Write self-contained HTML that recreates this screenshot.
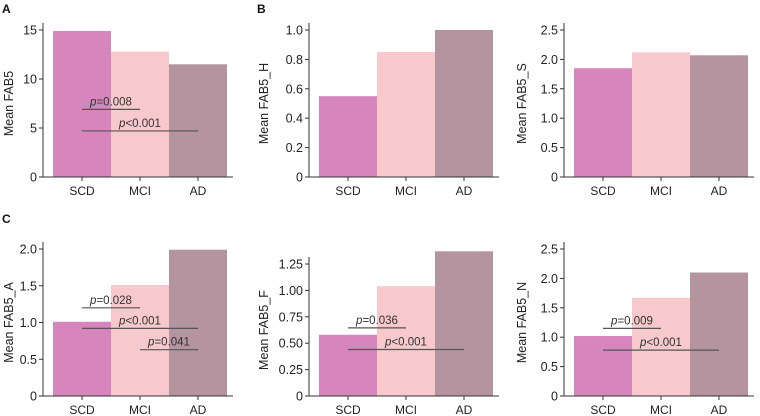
<!DOCTYPE html>
<html><head><meta charset="utf-8"><style>
body{margin:0;background:#fff;}
svg{display:block;font-family:"Liberation Sans",Arial,sans-serif;}
</style></head><body>
<svg id="chart" width="760" height="416" viewBox="0 0 760 416"></svg>
<script>
const categories = ["SCD","MCI","AD"];
const valuesA = [14.9, 12.8, 11.5];
const valuesH = [0.55, 0.85, 1.0];
const valuesS = [1.85, 2.12, 2.07];
const valuesAA = [1.01, 1.51, 1.99];
const valuesF = [0.58, 1.04, 1.37];
const valuesN = [1.02, 1.67, 2.10];
const ticksA = [0, 5, 10, 15];
const ticksH = [0, 0.2, 0.4, 0.6, 0.8, 1.0];
const ticksS = [0, 0.5, 1.0, 1.5, 2.0, 2.5];
const ticksAA = [0, 0.5, 1.0, 1.5, 2.0];
const ticksF = [0, 0.25, 0.5, 0.75, 1.0, 1.25];
const ticksN = [0, 0.5, 1.0, 1.5, 2.0, 2.5];
const tickLabelsA = ["0","5","10","15"];
const tickLabelsH = ["0","0.2","0.4","0.6","0.8","1.0"];
const tickLabelsS = ["0","0.5","1.0","1.5","2.0","2.5"];
const tickLabelsAA = ["0","0.5","1.0","1.5","2.0"];
const tickLabelsF = ["0","0.25","0.50","0.75","1.00","1.25"];
const tickLabelsN = ["0","0.5","1.0","1.5","2.0","2.5"];
// significance brackets: [fromIndex, toIndex, yValue, label]
const sigA = [[0,1,6.9,"=0.008"],[0,2,4.7,"<0.001"]];
const sigAA = [[0,1,1.2,"=0.028"],[0,2,0.92,"<0.001"],[1,2,0.63,"=0.041"]];
const sigF = [[0,1,0.645,"=0.036"],[0,2,0.44,"<0.001"]];
const sigN = [[0,1,1.15,"=0.009"],[0,2,0.78,"<0.001"]];

const colors = ["#d786bd","#f7c8cc","#b4949f"];
const NS = "http://www.w3.org/2000/svg";
const svg = document.getElementById("chart");
function el(tag, attrs, parent, text){
  const e = document.createElementNS(NS, tag);
  for (const k in attrs) e.setAttribute(k, attrs[k]);
  if (text !== undefined) e.textContent = text;
  (parent || svg).appendChild(e);
  return e;
}
function panel(id, ax, y0, yTop, tickMax, values, ticks, tickLabels, ylabel, labelX, sigs){
  const g = el("g", {});
  
  
  const yScale = v => y0 - v / tickMax * (y0 - yTop);
  const bw = 58, bx0 = ax + 10;
  const xCenter = i => bx0 + bw * i + bw / 2;
  values.forEach((v, i) => {
    const r = el("rect", {x: bx0 + bw*i, y: yScale(v), width: bw, height: y0 - yScale(v), fill: colors[i]}, g);
    
    
  });
  const yax = el("line", {x1: ax, x2: ax, y1: yTop - 7, y2: y0, stroke: "#333", "stroke-width": 1}, g);
  
  
  const xax = el("line", {x1: ax - 4, x2: bx0 + bw*3 + 6, y1: y0, y2: y0, stroke: "#333", "stroke-width": 1}, g);
  
  
  ticks.forEach((t, i) => {
    const y = yScale(t);
    el("line", {x1: ax - 4, x2: ax, y1: y, y2: y, stroke: "#333"}, g);
    const tl = el("text", {x: ax - 6, y: y + 4.5, "text-anchor": "end", "font-size": 12.5, fill: "#222"}, g, tickLabels[i]);
    
    
  });
  categories.forEach((c, i) => {
    const x = xCenter(i);
    el("line", {x1: x, x2: x, y1: y0, y2: y0 + 4, stroke: "#333"}, g);
    const xl = el("text", {x: x, y: y0 + 18, "text-anchor": "middle", "font-size": 12, fill: "#222"}, g, c);
    
    
  });
  const cy = (y0 + yTop) / 2;
  const yl = el("text", {x: labelX, y: cy, "text-anchor": "middle", "font-size": 12.5, fill: "#222", transform: `rotate(-90 ${labelX} ${cy})`}, g, ylabel);
  
  
  (sigs || []).forEach(s => {
    const x1 = xCenter(s[0]), x2 = xCenter(s[1]), y = yScale(s[2]);
    const ln = el("line", {x1: x1, x2: x2, y1: y, y2: y, stroke: "#555", "stroke-width": 1.2}, g);
    
    
    const t = el("text", {x: (x1 + x2) / 2, y: y - 4, "text-anchor": "middle", "font-size": 11.5, fill: "#333"}, g);
    
    
    el("tspan", {"font-style": "italic"}, t, "p");
    el("tspan", {}, t, s[3]);
  });
}
panel("panel-a", 43, 177, 30, 15, valuesA, ticksA, tickLabelsA, "Mean FAB5", 13, sigA);
panel("panel-b-h", 309, 177, 30, 1.0, valuesH, ticksH, tickLabelsH, "Mean FAB5_H", 268, null);
panel("panel-b-s", 564, 177, 30, 2.5, valuesS, ticksS, tickLabelsS, "Mean FAB5_S", 526, null);
panel("panel-c-a", 43, 396, 249, 2.0, valuesAA, ticksAA, tickLabelsAA, "Mean FAB5_A", 13, sigAA);
panel("panel-c-f", 309, 396, 264, 1.25, valuesF, ticksF, tickLabelsF, "Mean FAB5_F", 268, sigF);
panel("panel-c-n", 564, 396, 249, 2.5, valuesN, ticksN, tickLabelsN, "Mean FAB5_N", 526, sigN);
[["A",2,13],["B",257,13],["C",2,223]].forEach(p => {
  const t = el("text", {x: p[1], y: p[2], "font-size": 12, "font-weight": "bold", fill: "#111"}, svg, p[0]);
  
  
});
</script>
</body></html>
